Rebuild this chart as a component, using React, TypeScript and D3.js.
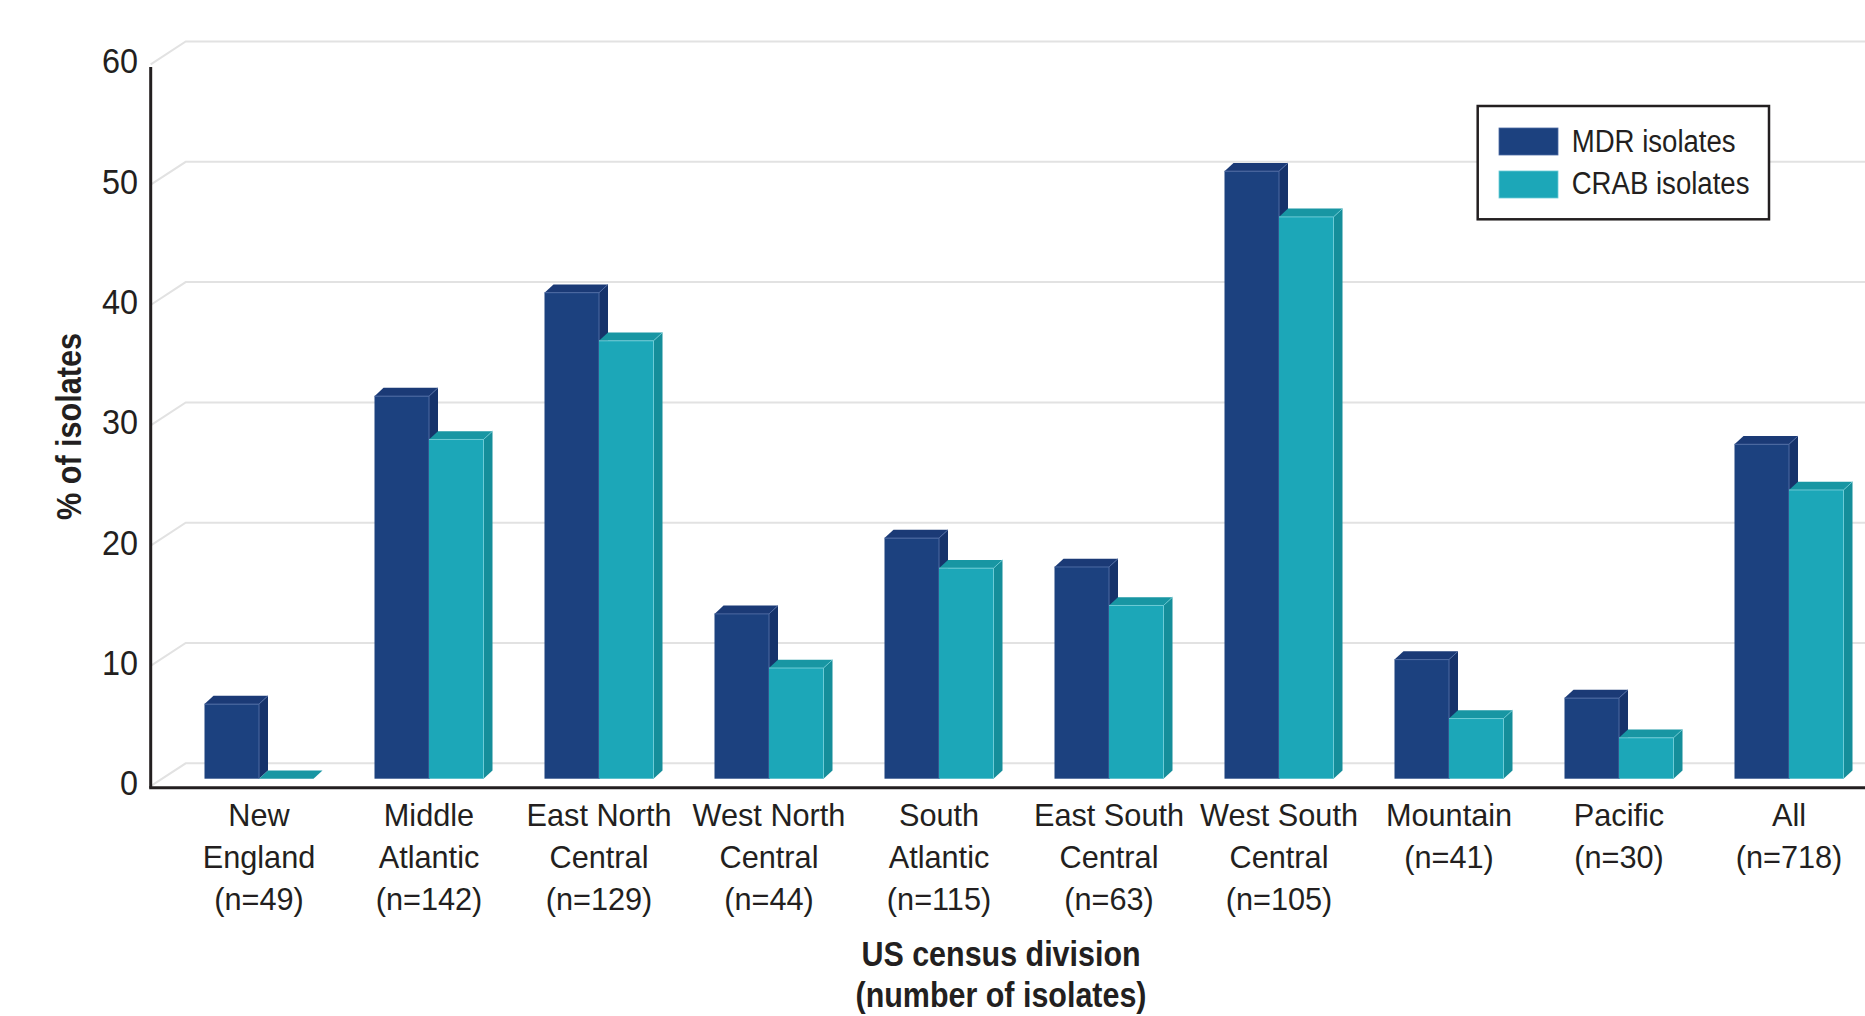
import React from "react";
import * as d3 from "d3";

const categories = ["New England", "Middle Atlantic", "East North Central", "West North Central", "South Atlantic", "East South Central", "West South Central", "Mountain", "Pacific", "All"];
const categoryLines = [["New", "England"], ["Middle", "Atlantic"], ["East North", "Central"], ["West North", "Central"], ["South", "Atlantic"], ["East South", "Central"], ["West South", "Central"], ["Mountain"], ["Pacific"], ["All"]];
const nLabels = ["(n=49)", "(n=142)", "(n=129)", "(n=44)", "(n=115)", "(n=63)", "(n=105)", "(n=41)", "(n=30)", "(n=718)"];
const mdrValues = [6.2, 31.8, 40.4, 13.7, 20.0, 17.6, 50.5, 9.9, 6.7, 27.8];
const crabValues = [0, 28.2, 36.4, 9.2, 17.5, 14.4, 46.7, 5.0, 3.4, 24.0];
const yTicks = [0, 10, 20, 30, 40, 50, 60];
const seriesNames = ["MDR isolates", "CRAB isolates"];

const W = 1865;
const H = 1016;
const FONT = "'Liberation Sans', Arial, Helvetica, sans-serif";
const INK = "#231f20";

const colors = [
  { front: "#1c417f", top: "#1b3a76", side: "#16336b", edge: "#4d6aa3" },
  { front: "#1ca7b8", top: "#1896a3", side: "#158e9a", edge: "#6ccbd6" },
];

export default function App() {
  const baseY = 778.7;
  const y = d3.scaleLinear().domain([0, 60]).range([baseY, baseY - 60 * 12.03]);
  const yBack = (v: number) => y(v) - 15.4;
  const yFront = (v: number) => y(v) + 7.5;
  const x = d3.scaleBand<number>().domain(d3.range(categories.length)).range([174, 174 + 170 * categories.length]).padding(0);
  const barW = 54.5;
  const dx = 9;
  const dy = 8.3;
  const axisX = 150.7;
  const backX = axisX + 35;
  const floorY = 787.7;

  const bar = (xl: number, v: number, c: typeof colors[0], key: string) => {
    const yt = y(v);
    const yb = baseY;
    const top = `M${xl},${yt} L${xl + dx},${yt - dy} L${xl + barW + dx},${yt - dy} L${xl + barW},${yt} Z`;
    const side = `M${xl + barW},${yt} L${xl + barW + dx},${yt - dy} L${xl + barW + dx},${yb - dy} L${xl + barW},${yb} Z`;
    return (
      <g key={key}>
        {v > 0 && <rect x={xl} y={yt} width={barW} height={yb - yt} fill={c.front} />}
        {v > 0 && <path d={side} fill={c.side} />}
        <path d={top} fill={c.top} />
        {v > 0 && (
          <path d={`M${xl},${yt} L${xl + barW},${yt} L${xl + barW},${yb}`} fill="none" stroke={c.edge} strokeWidth={1} />
        )}
        {v > 0 && (
          <path d={`M${xl + barW},${yt} L${xl + barW + dx},${yt - dy}`} fill="none" stroke={c.edge} strokeWidth={0.8} />
        )}
      </g>
    );
  };

  return (
    <svg width={W} height={H} style={{ position: "absolute", left: 0, top: 0, background: "#fff" }} fontFamily={FONT}>
      <rect width={W} height={H} fill="#fff" />
      {/* gridlines */}
      {yTicks.map((t) => (
        <g key={`g${t}`} stroke="#e2e2e2" strokeWidth={2} fill="none">
          <path d={`M${axisX},${yFront(t)} L${backX},${yBack(t)} L${W},${yBack(t)}`} />
        </g>
      ))}
      {/* bars */}
      {categories.map((_, i) => {
        const c = (x(i) as number) + x.bandwidth() / 2;
        return (
          <g key={`b${i}`}>
            {bar(c - barW, mdrValues[i], colors[0], `m${i}`)}
            {bar(c, crabValues[i], colors[1], `c${i}`)}
          </g>
        );
      })}
      {/* axes */}
      <line x1={axisX} y1={67} x2={axisX} y2={floorY} stroke={INK} strokeWidth={3} />
      <line x1={axisX - 1.5} y1={floorY} x2={W} y2={floorY} stroke={INK} strokeWidth={3} />
      {/* y tick labels */}
      {yTicks.map((t) => (
        <text
          key={`t${t}`}
          transform={`translate(138,${yFront(t) - 4}) scale(0.9,1)`}
          textAnchor="end"
          dy="0.36em"
          fontSize={36}
          fill={INK}
        >
          {t}
        </text>
      ))}
      {/* category labels */}
      {categories.map((_, i) => {
        const c = (x(i) as number) + x.bandwidth() / 2;
        const lines = [...categoryLines[i], nLabels[i]];
        return (
          <g key={`l${i}`}>
            {lines.map((s, j) => (
              <text
                key={j}
                transform={`translate(${c},${826 + j * 42}) scale(0.99,1)`}
                textAnchor="middle"
                fontSize={31}
                fill={INK}
              >
                {s}
              </text>
            ))}
          </g>
        );
      })}
      {/* axis titles */}
      <text transform="translate(1001,966) scale(0.87,1)" textAnchor="middle" fontSize={35} fontWeight="bold" fill={INK}>
        US census division
      </text>
      <text transform="translate(1001,1007) scale(0.87,1)" textAnchor="middle" fontSize={35} fontWeight="bold" fill={INK}>
        (number of isolates)
      </text>
      <text transform="translate(81,426.5) rotate(-90) scale(0.85,1)" textAnchor="middle" fontSize={36} fontWeight="bold" fill={INK}>
        % of isolates
      </text>
      {/* legend */}
      <rect x={1477.7} y={106} width={291.3} height={113.3} fill="#fff" stroke={INK} strokeWidth={2.5} />
      {seriesNames.map((s, i) => (
        <g key={`lg${i}`}>
          <rect x={1499} y={128 + i * 43} width={59} height={27} fill={colors[i].front} stroke={colors[i].edge} strokeWidth={0.8} />
          <text transform={`translate(1571.7,${151.7 + i * 42.5}) scale(0.89,1)`} fontSize={31} fill={INK}>
            {s}
          </text>
        </g>
      ))}
    </svg>
  );
}
